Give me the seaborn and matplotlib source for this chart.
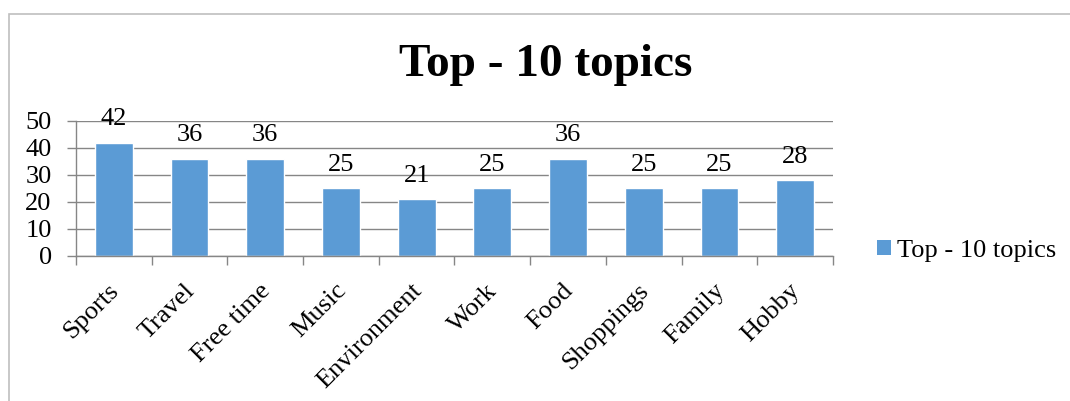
import matplotlib
matplotlib.use("Agg")
import matplotlib.pyplot as plt
import seaborn as sns
import pandas as pd
from matplotlib.patches import Rectangle
import matplotlib.transforms as mtransforms

categories = ["Sports", "Travel", "Free time", "Music", "Environment",
              "Work", "Food", "Shoppings", "Family", "Hobby"]
values = [42, 36, 36, 25, 21, 25, 36, 25, 25, 28]
series_name = "Top - 10 topics"
title_text = "Top - 10 topics"
yticks = [0, 10, 20, 30, 40, 50]

sns.set_theme(style="white")
plt.rcParams['font.family'] = ['Liberation Serif', 'DejaVu Serif']
plt.rcParams['text.color'] = 'black'

df = pd.DataFrame({"topic": categories, "count": values, "series": series_name})

fig = plt.figure(figsize=(10.70, 4.01), dpi=100)
ax = fig.add_axes([0.071, 0.3616, 0.7075, 0.3367])

bar_color = "#5B9BD5"
grid_color = "#868686"
fs = 19

sns.barplot(data=df, x="topic", y="count", hue="series", palette=[bar_color],
            width=0.5, ax=ax, legend=False, saturation=1)

ax.set_ylim(0, 50)
ax.set_yticks(yticks)
ax.set_xlim(-0.5, len(categories) - 0.5)
ax.yaxis.grid(True, color=grid_color, linewidth=1)
ax.set_axisbelow(True)
ax.set_xlabel("")
ax.set_ylabel("")

for s in ["top", "right"]:
    ax.spines[s].set_visible(False)
for s in ["left", "bottom"]:
    ax.spines[s].set_color(grid_color)
    ax.spines[s].set_linewidth(1)

# y ticks
ax.tick_params(axis="y", which="major", length=6.5, width=1, color=grid_color,
               labelsize=fs, labelcolor="black", pad=11, left=True,
               direction="out")
# x ticks at category boundaries
ax.set_xticks([i for i in range(len(categories))])
ax.set_xticklabels(categories)
ax.tick_params(axis="x", which="major", length=0, labelsize=fs,
               labelcolor="black", pad=17)
ax.set_xticks([i - 0.5 for i in range(len(categories) + 1)], minor=True)
ax.tick_params(axis="x", which="minor", length=6.5, width=1, color=grid_color,
               bottom=True, direction="out")

offset = mtransforms.ScaledTranslation(-6 / 100, 0, fig.dpi_scale_trans)
for lab in ax.get_xticklabels():
    lab.set_rotation(45)
    lab.set_ha("right")
    lab.set_va("top")
    lab.set_rotation_mode("anchor")
    lab.set_transform(lab.get_transform() + offset)

for cont in ax.containers:
    ax.bar_label(cont, labels=[str(v) for v in values], fontsize=fs,
                 padding=9, color="black")

fig.text(0.51, 0.838, title_text, ha="center", va="center",
         fontsize=34, fontweight="bold", color="black")

handle = Rectangle((0, 0), 1, 1, facecolor=bar_color, edgecolor="none")
fig.legend([handle], [series_name], loc="center left",
           bbox_to_anchor=(0.797, 0.375), frameon=False, fontsize=fs,
           handlelength=0.53, handleheight=0.53, handletextpad=0.25,
           labelcolor="black")

# outer chart border (partially visible)
border = Rectangle((8.5 / 1070, -0.1), 1.2, (401 - 13.5) / 401 + 0.1,
                   transform=fig.transFigure, fill=False,
                   edgecolor="#BFBFBF", linewidth=1.2, clip_on=False)
fig.patches.append(border)

fig.savefig("out.png", dpi=100)
